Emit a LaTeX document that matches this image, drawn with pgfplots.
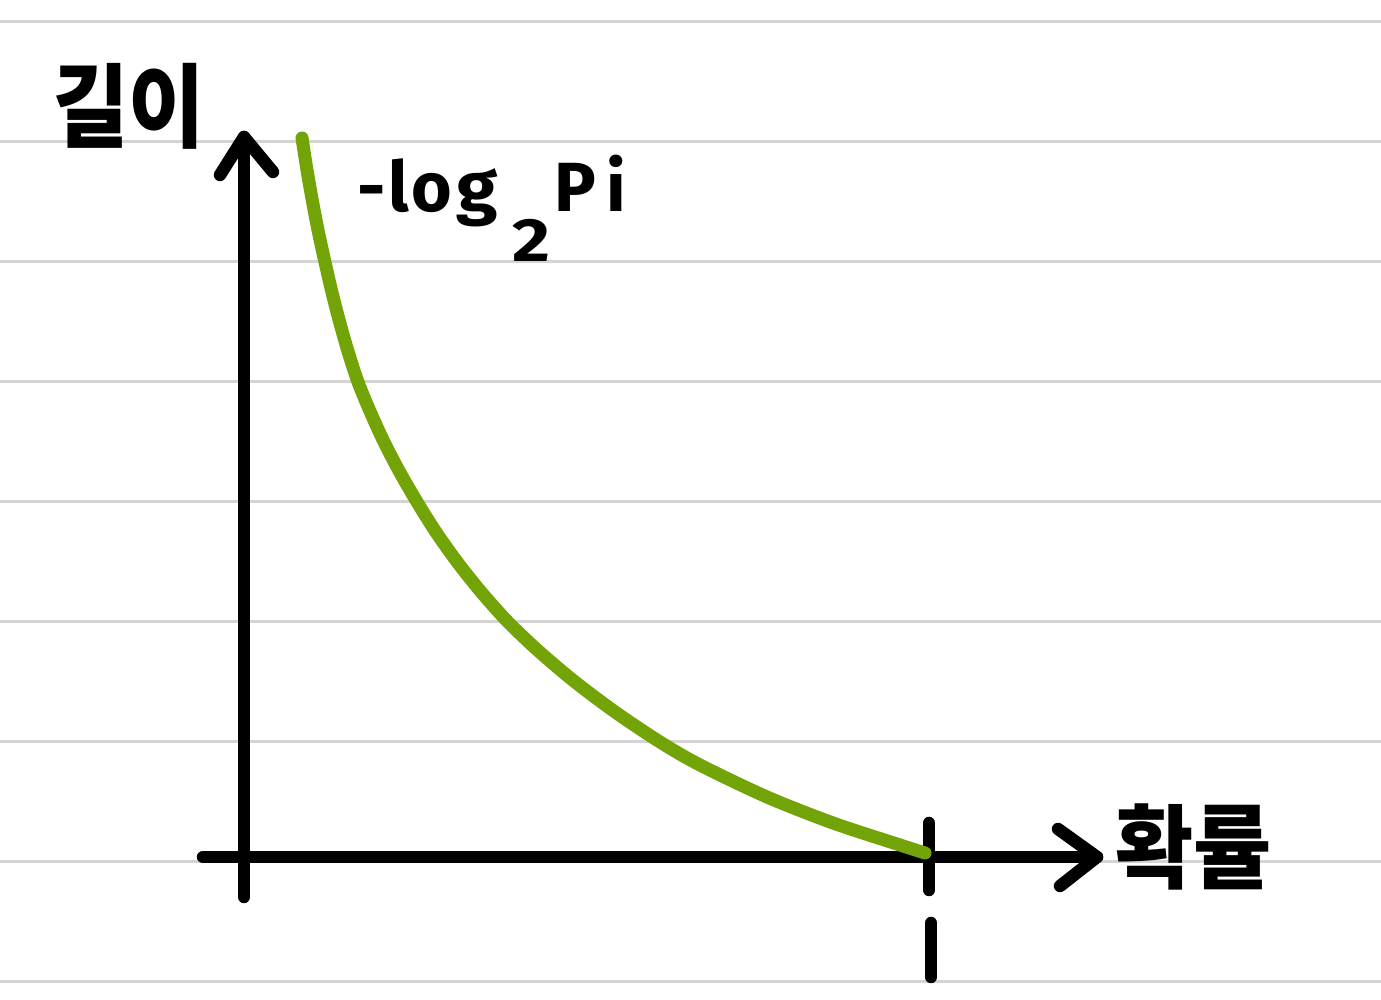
\documentclass[border=0pt]{standalone}
\usepackage{pgfplots}
\pgfplotsset{compat=1.18}
\usepackage{graphicx}
\usepackage{fontspec}
\setmainfont{Noto Sans CJK KR}
\newfontfamily\latinfont{Fira Sans}
\definecolor{curvegreen}{RGB}{114,164,8}
\definecolor{ruleline}{RGB}{212,212,212}
\begin{document}
\begin{tikzpicture}[x=1cm,y=1cm]
\path[use as bounding box] (0,0) rectangle (13.81,10);
\foreach \yy in {0.18,1.38,2.58,3.78,4.98,6.18,7.38,8.58,9.78}
  \draw[ruleline, line width=0.3mm] (0,\yy) -- (13.81,\yy);
\begin{scope}[black, line width=1.25mm, line cap=round, line join=round]
  \draw (2.44,1.03) -- (2.44,8.63);
  \draw (2.20,8.25) -- (2.44,8.63) -- (2.73,8.28);
  \draw (2.03,1.43) -- (10.97,1.43);
  \draw (10.58,1.71) -- (10.97,1.43) -- (10.60,1.14);
  \draw (9.29,1.77) -- (9.29,1.10);
  \draw (9.31,0.77) -- (9.31,0.23);
\end{scope}
\begin{axis}[
  at={(2.44cm,1.43cm)}, anchor=south west,
  scale only axis, width=6.85cm, height=7.07cm,
  xmin=0, xmax=1, ymin=0, ymax=3.5,
  hide axis, clip=false]
\addplot[curvegreen, line width=1.3mm, line cap=round, line join=round, smooth] coordinates {
(0.0847,3.5594) (0.0917,3.4059) (0.0996,3.2525) (0.1083,3.0990) (0.1182,2.9455)
(0.1283,2.7970) (0.1396,2.6485) (0.1521,2.5000) (0.1664,2.3515) (0.1844,2.2030)
(0.2044,2.0545) (0.2272,1.9059) (0.2526,1.7574) (0.2801,1.6089) (0.3112,1.4604)
(0.3461,1.3119) (0.3854,1.1634) (0.4315,1.0149) (0.4834,0.8663) (0.5418,0.7178)
(0.6073,0.5693) (0.6657,0.4554) (0.7635,0.2970) (0.8599,0.1683) (0.9577,0.0594)
(0.9942,0.0198)};
\end{axis}
\node[inner sep=0pt] at (1.285,8.935) {\scalebox{0.91}[1]{\fontsize{26pt}{30pt}\selectfont\bfseries 길이}};
\node[inner sep=0pt] at (11.935,1.535) {\scalebox{0.93}[1]{\fontsize{26pt}{30pt}\selectfont\bfseries 확률}};
\node[inner sep=0pt, anchor=base west] at (3.57,7.88) {\latinfont\bfseries\fontsize{19.8pt}{22pt}\selectfont -\kern0.85pt l\kern0.6pt o\kern1.2pt\scalebox{1.08}[1]{g}\kern4.0pt\raisebox{-5mm}{\scalebox{1.2}[1]{\fontsize{17.4pt}{18pt}\selectfont 2}}\kern1.4pt P\kern2.8pt i};
\end{tikzpicture}
\end{document}
